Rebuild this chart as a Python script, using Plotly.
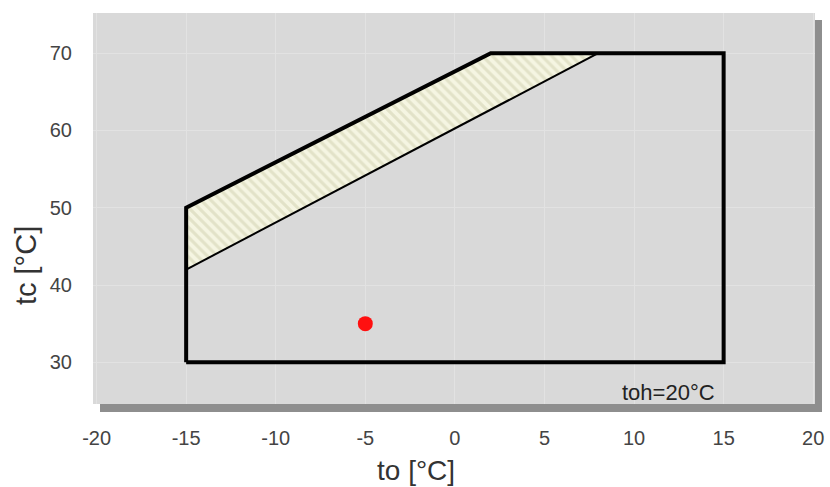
import plotly.graph_objects as go

# Envelope (operating limits)
env_to = [-15, -15, 2, 15, 15, -15]
env_tc = [30, 50, 70, 70, 30, 30]

# Hatched band (upper and lower limit)
band_to = [-15, 2, 8, -15, -15]
band_tc = [50, 70, 70, 42, 50]
lower_to = [-15, 8]
lower_tc = [42, 70]

# Operating point
pt_to = [-5]
pt_tc = [35]

note_text = "toh=20°C"
note_pos = (14.65, 26.1)

x_ticks = [-20, -15, -10, -5, 0, 5, 10, 15, 20]
x_labels = ["-20", "-15", "-10", "-5", "0", "5", "10", "15", "20"]
y_ticks = [30, 40, 50, 60, 70]
y_labels = ["30", "40", "50", "60", "70"]
x_title = "to [°C]"
y_title = "tc [°C]"

FONT = "Liberation Sans, Arial, sans-serif"

fig = go.Figure()

fig.add_trace(go.Scatter(
    x=band_to, y=band_tc, mode="lines", fill="toself",
    fillcolor="#f5f5e2",
    fillpattern=dict(shape="\\", fgcolor="#cfcfae", bgcolor="#f5f5e2", size=7, solidity=0.45),
    line=dict(color="rgba(0,0,0,0)", width=0),
    hoverinfo="skip", showlegend=False))

fig.add_trace(go.Scatter(
    x=lower_to, y=lower_tc, mode="lines",
    line=dict(color="#000000", width=2),
    hoverinfo="skip", showlegend=False))

fig.add_trace(go.Scatter(
    x=env_to, y=env_tc, mode="lines",
    line=dict(color="#000000", width=4),
    showlegend=False))

fig.add_trace(go.Scatter(
    x=pt_to, y=pt_tc, mode="markers",
    marker=dict(color="#ff1010", size=15),
    showlegend=False))

fig.add_annotation(x=note_pos[0], y=note_pos[1], text=note_text, showarrow=False,
                   xanchor="right", yanchor="middle",
                   font=dict(family=FONT, size=22, color="#222222"))

# axis titles (placed as in the reference, off-centre)
fig.add_annotation(xref="paper", yref="paper", x=0.448, y=-0.169, text=x_title,
                   showarrow=False, xanchor="center", yanchor="middle",
                   font=dict(family=FONT, size=28, color="#333333"))
fig.add_annotation(xref="paper", yref="paper", x=-0.093, y=0.355, text=y_title,
                   showarrow=False, xanchor="center", yanchor="middle", textangle=-90,
                   font=dict(family=FONT, size=29, color="#333333"))

# plot-area shadow and background
fig.add_shape(type="rect", xref="paper", yref="paper", layer="below",
              x0=0.0097, x1=1.0097, y0=-0.0205, y1=0.982,
              fillcolor="#8e8e8e", line=dict(width=0))
fig.add_shape(type="rect", xref="paper", yref="paper", layer="below",
              x0=0, x1=1, y0=0, y1=1,
              fillcolor="#d9d9d9", line=dict(width=0))

fig.update_layout(
    width=830, height=487,
    margin=dict(l=93, r=15, t=13, b=83),
    paper_bgcolor="#ffffff",
    plot_bgcolor="rgba(0,0,0,0)",
    font=dict(family=FONT, color="#333333"),
)
fig.update_xaxes(range=[-20.2, 20.1], tickvals=x_ticks, ticktext=x_labels,
                 showgrid=True, gridcolor="#e2e2e2",
                 gridwidth=1, zeroline=False, showline=False,
                 ticks="outside", ticklen=16, tickcolor="rgba(0,0,0,0)",
                 automargin=False,
                 tickfont=dict(family=FONT, size=20, color="#444444"))
fig.update_yaxes(range=[24.6, 75.2], tickvals=y_ticks, ticktext=y_labels,
                 showgrid=True, gridcolor="#e2e2e2",
                 gridwidth=1, zeroline=False, showline=False,
                 ticks="outside", ticklen=16, tickcolor="rgba(0,0,0,0)",
                 automargin=False,
                 tickfont=dict(family=FONT, size=20, color="#444444"))

# remove the browser's default 8px body margin so the figure fills the window
fig.write_html("out.html",
               config={"displayModeBar": False},
               post_script="document.body.style.margin='0';document.body.style.overflow='hidden';")
